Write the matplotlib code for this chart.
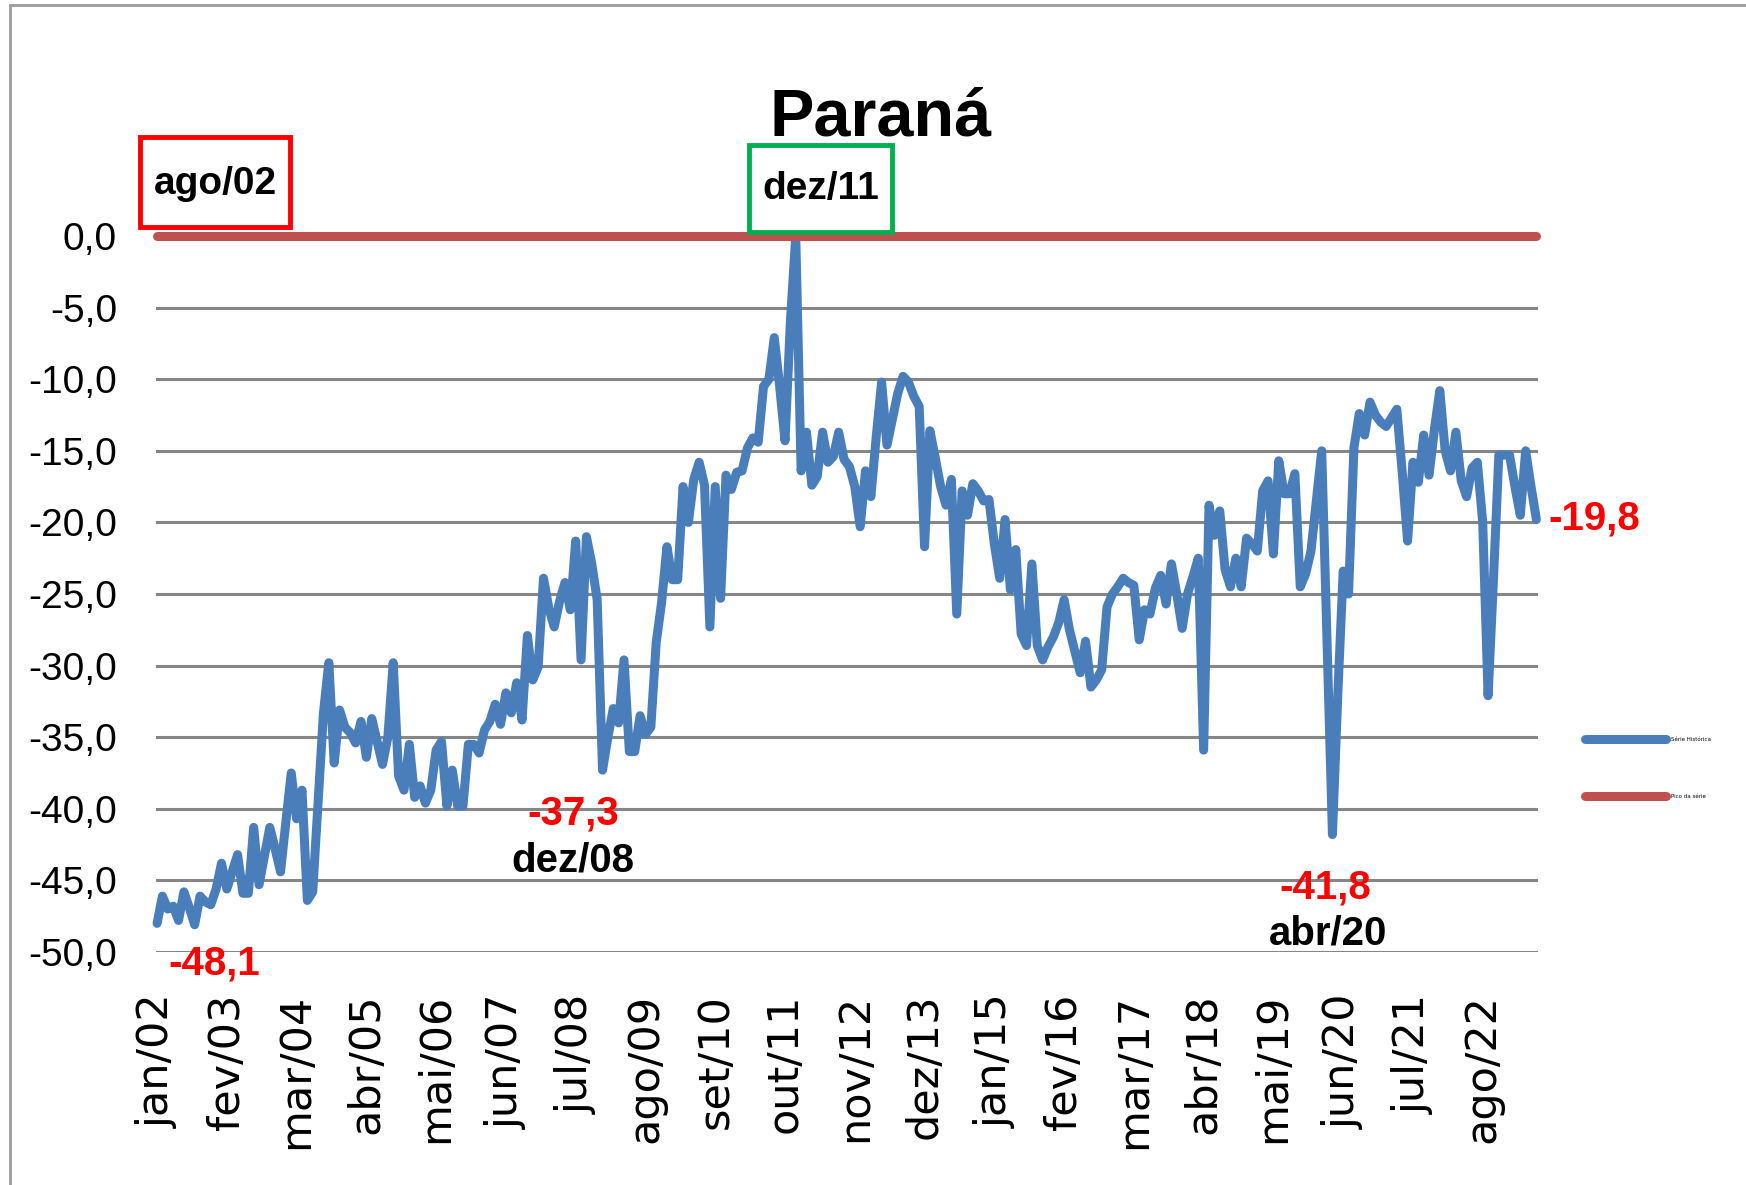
import numpy as np
import matplotlib.pyplot as plt
from matplotlib.patches import Rectangle

# série mensal jan/02 .. jun/23 (distância ao pico, em %)
serie = [
    -48.0, -46.1, -47.0, -46.8, -47.8, -45.8, -46.9, -48.1, -46.1, -46.5, -46.7, -45.6,
    -43.8, -45.6, -44.4, -43.2, -45.9, -45.9, -41.3, -45.3, -43.3, -41.3, -42.8, -44.4,
    -40.9, -37.5, -40.7, -38.7, -46.4, -45.8, -39.6, -33.3, -29.8, -36.8, -33.1, -34.3,
    -34.7, -35.4, -33.9, -36.4, -33.7, -35.3, -36.9, -35.0, -29.8, -37.7, -38.7, -35.5,
    -39.2, -38.4, -39.6, -38.7, -35.9, -35.3, -39.8, -37.3, -39.8, -39.8, -35.5, -35.5,
    -36.1, -34.5, -33.9, -32.7, -34.1, -31.9, -33.3, -31.2, -33.8, -27.9, -31.0, -30.1,
    -23.9, -26.0, -27.3, -25.5, -24.2, -26.1, -21.3, -29.6, -21.0, -22.9, -25.4, -37.3,
    -35.0, -33.0, -34.0, -29.6, -36.0, -36.0, -33.5, -34.8, -34.3, -28.4, -25.6, -21.7,
    -24.0, -24.0, -17.5, -20.0, -17.0, -15.8, -17.4, -27.3, -17.5, -25.3, -16.7, -17.7,
    -16.5, -16.4, -14.8, -14.1, -14.4, -10.5, -10.0, -7.1, -10.5, -14.3, -6.0, 0.0,
    -16.4, -13.7, -17.4, -16.8, -13.7, -15.8, -15.4, -13.7, -15.6, -16.1, -17.5, -20.3,
    -16.4, -18.2, -14.0, -10.2, -14.6, -12.8, -11.0, -9.8, -10.2, -11.2, -11.9, -21.7,
    -13.6, -15.5, -17.5, -18.8, -17.0, -26.4, -17.8, -19.5, -17.3, -17.8, -18.5, -18.4,
    -21.5, -23.9, -19.8, -24.7, -21.9, -27.8, -28.6, -22.9, -28.6, -29.6, -28.7, -28.0,
    -27.0, -25.4, -27.5, -29.0, -30.5, -28.3, -31.5, -31.0, -30.3, -25.9, -25.0, -24.5,
    -23.9, -24.2, -24.4, -28.2, -26.1, -26.4, -24.6, -23.7, -25.7, -22.9, -25.0, -27.4,
    -25.0, -23.8, -22.5, -35.9, -18.8, -20.9, -19.2, -23.3, -24.5, -22.5, -24.5, -21.1,
    -21.5, -22.0, -17.8, -17.1, -22.2, -15.7, -18.0, -18.0, -16.6, -24.5, -23.6, -22.0,
    -18.5, -15.0, -28.5, -41.8, -32.0, -23.4, -25.0, -14.8, -12.4, -13.9, -11.6, -12.5,
    -13.0, -13.3, -12.7, -12.1, -16.5, -21.3, -15.8, -17.2, -13.9, -16.7, -13.5, -10.8,
    -15.0, -16.4, -13.7, -17.1, -18.2, -16.2, -15.8, -20.0, -32.1, -24.0, -15.3, -15.3,
    -15.3, -17.5, -19.5, -15.0, -17.5, -19.8,
]
pico = [0.0] * len(serie)

meses = ['jan', 'fev', 'mar', 'abr', 'mai', 'jun', 'jul', 'ago', 'set', 'out', 'nov', 'dez']
rotulos_mes = [f'{m}/{a:02d}' for a in range(2, 24) for m in meses][:len(serie)]
valores_y = [0, -5, -10, -15, -20, -25, -30, -35, -40, -45, -50]

W, H = 1746, 1185
fonte = ['Liberation Sans', 'DejaVu Sans']

fig = plt.figure(figsize=(W / 100, H / 100), dpi=100)
fig.add_artist(Rectangle((10 / W, -0.1), 1.2, 1.1 - 4.5 / H, transform=fig.transFigure,
                         fill=False, edgecolor='#9a9a9a', lw=2))

ax = fig.add_axes([156 / W, 1 - 952 / H, 1382 / W, 716 / H])
x = np.arange(len(serie))
ax.plot(x, serie, color='#4A7EBB', lw=6.5, solid_joinstyle='round', solid_capstyle='round',
        label='Série Histórica', zorder=3, clip_on=False)
ax.plot(x, pico, color='#C0504D', lw=6.5, solid_capstyle='round',
        label='Pico da série', zorder=4, clip_on=False)

ax.set_ylim(-50, 0)
ax.set_xlim(-0.2, len(serie) - 0.7)
ax.set_yticks(valores_y)
ax.set_yticklabels([f'{v:.1f}'.replace('.', ',') for v in valores_y],
                   fontsize=28, family=fonte)
ax.set_xticks(x[::13])
ax.set_xticklabels(rotulos_mes[::13], rotation=90, fontsize=31, family='DejaVu Sans')
ax.tick_params(length=0)
ax.tick_params(axis='y', pad=28)
ax.tick_params(axis='x', pad=30)
ax.yaxis.grid(True, color='#868686', lw=2.2)
ax.set_axisbelow(True)
for s in ax.spines.values():
    s.set_visible(False)

fig.text(881 / W, 1 - 136 / H, 'Paraná', fontsize=48, fontweight='bold', family=fonte,
         ha='center', va='baseline')

# caixas de destaque
fig.add_artist(Rectangle((140 / W, 1 - 227 / H), 150 / W, 90 / H, transform=fig.transFigure,
                         fill=False, edgecolor='#FF0000', lw=3.5))
fig.text(215 / W, 1 - 184 / H, 'ago/02', fontsize=28, fontweight='bold', family=fonte,
         ha='center', va='center')
fig.add_artist(Rectangle((749 / W, 1 - 232 / H), 143 / W, 87 / H, transform=fig.transFigure,
                         fill=False, edgecolor='#00B050', lw=3.5, zorder=5))
fig.text(821 / W, 1 - 189 / H, 'dez/11', fontsize=28, fontweight='bold', family=fonte,
         ha='center', va='center')

# rótulos de valores
rot = dict(fontsize=29, fontweight='bold', family=fonte, ha='center', va='center')
ax.text(10.6, -50.8, '-48,1', color='#FF0000', clip_on=False, **rot)
ax.text(77.5, -40.3, '-37,3', color='#FF0000', **rot)
ax.text(77.5, -43.6, 'dez/08', color='black', **rot)
ax.text(217.7, -45.5, '-41,8', color='#FF0000', **rot)
ax.text(218.2, -48.7, 'abr/20', color='black', clip_on=False, **rot)
ax.text(259.3, -19.7, '-19,8', color='#FF0000', fontsize=29, fontweight='bold',
        family=fonte, ha='left', va='center', clip_on=False)

fig.legend(loc='center left', bbox_to_anchor=(1585 / W, 1 - 768 / H), frameon=False,
           fontsize=4, handlelength=14.5, handletextpad=1.0, labelspacing=9.5,
           borderpad=0, borderaxespad=0)

fig.savefig('out.png', dpi=100)
